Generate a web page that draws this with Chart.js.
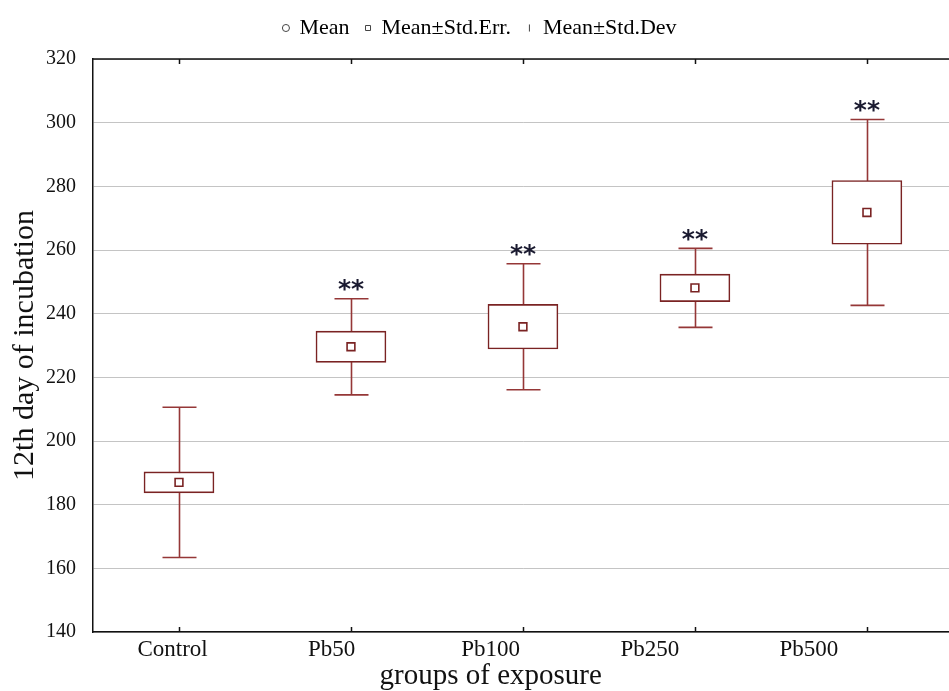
<!DOCTYPE html>
<html>
<head>
<meta charset="utf-8">
<title>12th day of incubation</title>
<script src="https://cdn.jsdelivr.net/npm/chart.js@4.4.1/dist/chart.umd.min.js"></script>
<style>
  html, body { margin: 0; padding: 0; background: #fff; overflow: hidden; }
  #wrap { width: 960px; height: 691px; }
</style>
</head>
<body>
<div id="wrap"><canvas id="incubation" width="960" height="691"></canvas></div>
<script>
const groups = ['Control', 'Pb50', 'Pb100', 'Pb250', 'Pb500'];
const means = [187.0, 229.6, 235.9, 248.1, 271.8];
const stdErr = [3.3, 4.9, 7.0, 4.3, 10.0];
const stdDev = [23.6, 15.1, 19.8, 12.4, 29.2];
const marks = ['', '**', '**', '**', '**'];
const yTicks = [140, 160, 180, 200, 220, 240, 260, 280, 300, 320];

const boxRed = '#7a2323';
const whiskerRed = '#953737';
const serif = '"Liberation Serif", "Times New Roman", serif';

// whisker = mean ± std.dev, drawn under the boxes
const whiskers = {
    id: 'whiskers',
    beforeDatasetsDraw(chart) {
        const { ctx } = chart;
        const x = chart.scales.x, y = chart.scales.y;
        ctx.save();
        ctx.strokeStyle = whiskerRed;
        ctx.lineWidth = 1.6;
        means.forEach((m, i) => {
            const px = Math.round(x.getPixelForValue(i)) + 0.5;
            const top = y.getPixelForValue(m + stdDev[i]);
            const bot = y.getPixelForValue(m - stdDev[i]);
            ctx.beginPath();
            ctx.moveTo(px, top); ctx.lineTo(px, bot);
            ctx.moveTo(px - 17, top); ctx.lineTo(px + 17, top);
            ctx.moveTo(px - 17, bot); ctx.lineTo(px + 17, bot);
            ctx.stroke();
        });
        ctx.restore();
    }
};

// significance stars above the upper whisker
const stars = {
    id: 'stars',
    afterDatasetsDraw(chart) {
        const { ctx } = chart;
        const x = chart.scales.x, y = chart.scales.y;
        ctx.save();
        ctx.fillStyle = '#1a1a30';
        ctx.font = 'bold 25px "DejaVu Sans", sans-serif';
        ctx.textAlign = 'center';
        ctx.textBaseline = 'middle';
        marks.forEach((s, i) => {
            if (!s) return;
            ctx.fillText(s, x.getPixelForValue(i), y.getPixelForValue(means[i] + stdDev[i]) - 8);
        });
        ctx.restore();
    }
};

// top frame line, inward tick marks, category labels and x title
const frame = {
    id: 'frame',
    afterDraw(chart) {
        const { ctx, chartArea: a } = chart;
        const x = chart.scales.x;
        ctx.save();
        ctx.strokeStyle = '#111';
        ctx.lineWidth = 1.5;
        ctx.beginPath();
        ctx.moveTo(a.left, a.top); ctx.lineTo(a.right, a.top);
        groups.forEach((g, i) => {
            const px = Math.round(x.getPixelForValue(i)) + 0.5;
            ctx.moveTo(px, a.top); ctx.lineTo(px, a.top + 5);
            ctx.moveTo(px, a.bottom); ctx.lineTo(px, a.bottom - 5);
        });
        ctx.stroke();

        // labels sit a little tighter than the boxes
        const spread = 0.925;
        const labelX = i => a.left + (x.getPixelForValue(i) - a.left) * spread;
        ctx.fillStyle = '#111';
        ctx.textAlign = 'center';
        ctx.textBaseline = 'top';
        ctx.font = '23px ' + serif;
        groups.forEach((g, i) => ctx.fillText(g, labelX(i), a.bottom + 6));
        ctx.font = '29px ' + serif;
        ctx.fillText('groups of exposure', labelX(2), a.bottom + 30);
        ctx.restore();
    }
};

const ctx = document.getElementById('incubation').getContext('2d');
new Chart(ctx, {
    type: 'bar',
    data: {
        labels: groups,
        datasets: [
            {
                type: 'line',
                label: 'Mean',
                data: means,
                showLine: false,
                pointStyle: 'rect',
                pointRadius: 5.5,
                pointBackgroundColor: '#fff',
                pointBorderColor: boxRed,
                pointBorderWidth: 1.6,
                order: 0
            },
            {
                label: 'Mean±Std.Err.',
                data: means.map((m, i) => [m - stdErr[i], m + stdErr[i]]),
                backgroundColor: '#fff',
                borderColor: boxRed,
                borderWidth: 1.6,
                borderSkipped: false,
                barThickness: 70,
                order: 1
            }
        ]
    },
    options: {
        responsive: false,
        animation: false,
        layout: { padding: { top: 1, right: 0, left: 0, bottom: 0 } },
        scales: {
            x: {
                grid: { display: false },
                border: { display: true, color: '#111', width: 1.5 },
                ticks: { display: false },
                afterFit: s => { s.height = 59; }
            },
            // empty strip between the legend and the plot frame
            gap: {
                type: 'category',
                position: 'top',
                grid: { display: false },
                border: { display: false },
                ticks: { display: false },
                afterFit: s => { s.height = 10; }
            },
            y: {
                min: yTicks[0],
                max: yTicks[yTicks.length - 1],
                afterBuildTicks: s => { s.ticks = yTicks.map(v => ({ value: v })); },
                grid: { color: '#c4c4c4', lineWidth: 1, drawTicks: false },
                border: { display: true, color: '#111', width: 1.5 },
                ticks: {
                    color: '#111',
                    padding: 17,
                    font: { family: serif, size: 20 }
                },
                title: {
                    display: true,
                    text: '12th day of incubation',
                    color: '#111',
                    padding: { top: 7, bottom: 0 },
                    font: { family: serif, size: 30 }
                },
                afterFit: s => { s.width = 93; }
            }
        },
        plugins: {
            tooltip: { enabled: false },
            legend: {
                position: 'top',
                onClick: null,
                labels: {
                    color: '#111',
                    font: { family: serif, size: 22 },
                    usePointStyle: true,
                    boxWidth: 5,
                    boxHeight: 5,
                    padding: 16,
                    generateLabels: () => [
                        { text: 'Mean', pointStyle: 'circle', fillStyle: '#fff', strokeStyle: '#444', lineWidth: 1, hidden: false, datasetIndex: 0 },
                        { text: 'Mean±Std.Err.', pointStyle: 'rect', fillStyle: '#fff', strokeStyle: '#444', lineWidth: 1, hidden: false, datasetIndex: 1 },
                        { text: 'Mean±Std.Dev', pointStyle: 'line', rotation: 90, fillStyle: '#444', strokeStyle: '#444', lineWidth: 1, hidden: false, datasetIndex: 1 }
                    ]
                }
            }
        }
    },
    plugins: [whiskers, stars, frame]
});
</script>
</body>
</html>
